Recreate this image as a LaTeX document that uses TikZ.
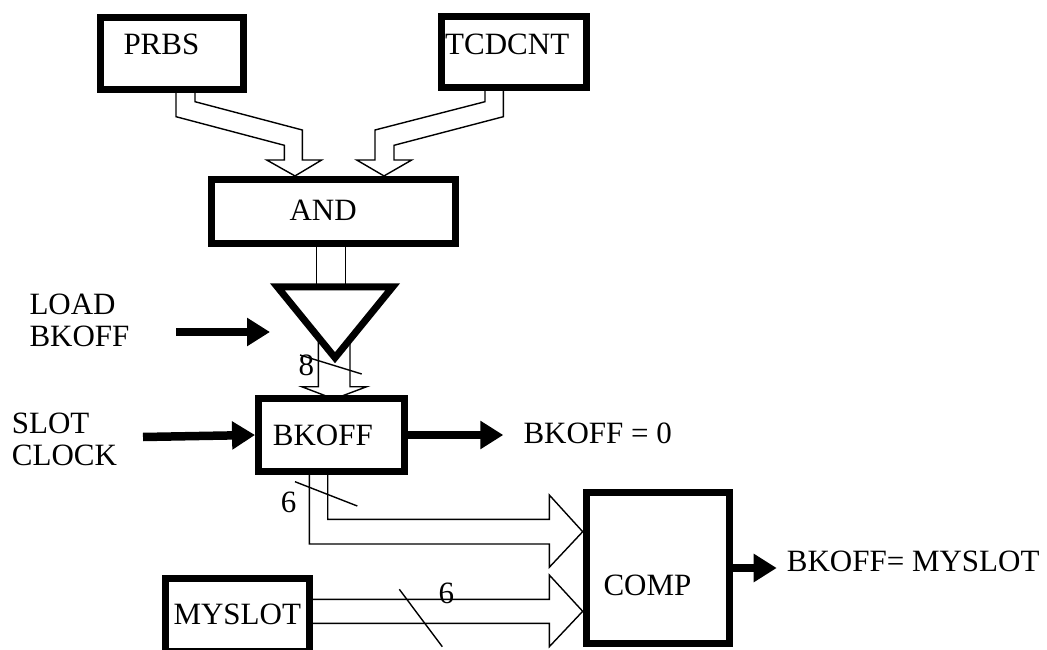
\documentclass[tikz,border=0pt]{standalone}
\usepackage{fontspec}
\setmainfont{Liberation Serif}
\usetikzlibrary{arrows.meta,backgrounds}
\begin{document}
\begin{tikzpicture}[x=1pt,y=-1pt,
  box/.style={draw,fill=white,line width=7pt,inner sep=0pt},
  txt/.style={inner sep=0pt,anchor=base west,font=\fontsize{31}{32}\selectfont},
  bus/.style={line width=1.4pt,line join=miter},
  slash/.style={line width=1.4pt},
  sig/.style={line width=8.5pt,-{Triangle[length=23pt,width=27pt]}}]
\useasboundingbox (0,0) rectangle (1047,650);
% blocks
\node[box,minimum width=143pt,minimum height=71.7pt] (prbs) at (171.7,53.3) {};
\node[box,minimum width=145pt,minimum height=71pt] (tcdcnt) at (514,51.7) {};
\node[box,minimum width=244pt,minimum height=63.7pt] (and) at (333.8,211.3) {};
\node[box,minimum width=146.3pt,minimum height=73pt] (bkoff) at (331.7,435) {};
\node[box,minimum width=144pt,minimum height=72.5pt] (myslot) at (237.2,614.75) {};
\node[box,minimum width=143.6pt,minimum height=150.4pt] (comp) at (658,568) {};
% tri-state buffer
\coordinate (tl) at (277.3,286.8);
\coordinate (tr) at (392.7,286.8);
\coordinate (tb) at (335,357.7);
\draw[line width=7pt,fill=white,line join=miter] (tl) -- (tr) -- (tb) -- cycle;
% labels in blocks
\node[txt] (prbs-t) at (123.3,55) {PRBS};
\node[txt] (tcdcnt-t) at (445,55) {TCDCNT};
\node[txt] (and-t) at (289.3,220.7) {AND};
\node[txt] (bkoff-t) at (272.7,445) {BKOFF};
\node[txt] (myslot-t) at (173.3,624) {MYSLOT};
\node[txt] (comp-t) at (603.3,595) {COMP};
% outer labels
\node[txt,align=left] (load-t) at (29.3,346.7) {LOAD\\BKOFF};
\node[txt,align=left] (slot-t) at (11.7,465) {SLOT\\CLOCK};
\node[txt] (zero-t) at (523.3,443.3) {BKOFF = 0};
\node[txt] (match-t) at (786.7,571.7) {BKOFF= MYSLOT};
\node[txt] (w8) at (298.3,375) {8};
\node[txt] (w6a) at (280.7,512.7) {6};
\node[txt] (w6b) at (438.3,603.3) {6};
% buses
\begin{scope}[on background layer]
\draw[bus] (176,0 |- prbs.south) -- (176,116.7) -- (284.3,145.3) -- (284.3,160) -- (266.7,160)
  -- (295,0 |- and.north) -- (321.7,160) -- (302.3,160) -- (302.3,130) -- (195,101.7) -- (195,0 |- prbs.south);
\draw[bus] (485,0 |- tcdcnt.south) -- (485,101.7) -- (375,130) -- (375,160) -- (356.7,160)
  -- (384,0 |- and.north) -- (411.7,160) -- (394,160) -- (394,145.3) -- (503.3,116.7) -- (503.3,0 |- tcdcnt.south);
\draw[bus] (316.7,0 |- and.south) -- (316.7,0 |- tl);
\draw[bus] (345.7,0 |- and.south) -- (345.7,0 |- tl);
\draw[bus] (318.3,340) -- (318.3,386.7) -- (301.7,386.7) -- (334,399) -- (366.7,386.7) -- (350,386.7) -- (350,340);
\draw[bus] (327.7,0 |- bkoff.south) -- (327.7,519.3) -- (549.3,519.3) -- (549.3,495) -- (comp.west |- 0,531.7)
  -- (549.3,567.3) -- (549.3,544) -- (309.3,544) -- (309.3,0 |- bkoff.south);
\draw[bus] (myslot.east |- 0,599.3) -- (549.3,599.3) -- (549.3,575) -- (comp.west |- 0,611.3)
  -- (549.3,646.7) -- (549.3,623.3) -- (myslot.east |- 0,623.3);
\end{scope}
% width slashes
\draw[slash] (300,355) -- (361.7,374);
\draw[slash] (295,481.7) -- (357.3,506);
\draw[slash] (399.3,589.3) -- (442.3,646.7);
% control / status signals
\coordinate (loadin) at (176,332);
\coordinate (loadend) at (270,332);
\coordinate (slotin) at (143,437);
\coordinate (zero) at (503.3,435);
\coordinate (match) at (776.7,568);
\draw[sig] (loadin) -- (loadend);
\draw[sig] (slotin) -- (bkoff.west);
\draw[sig] (bkoff.east) -- (zero);
\draw[sig] (comp.east) -- (match);
\end{tikzpicture}
\end{document}
